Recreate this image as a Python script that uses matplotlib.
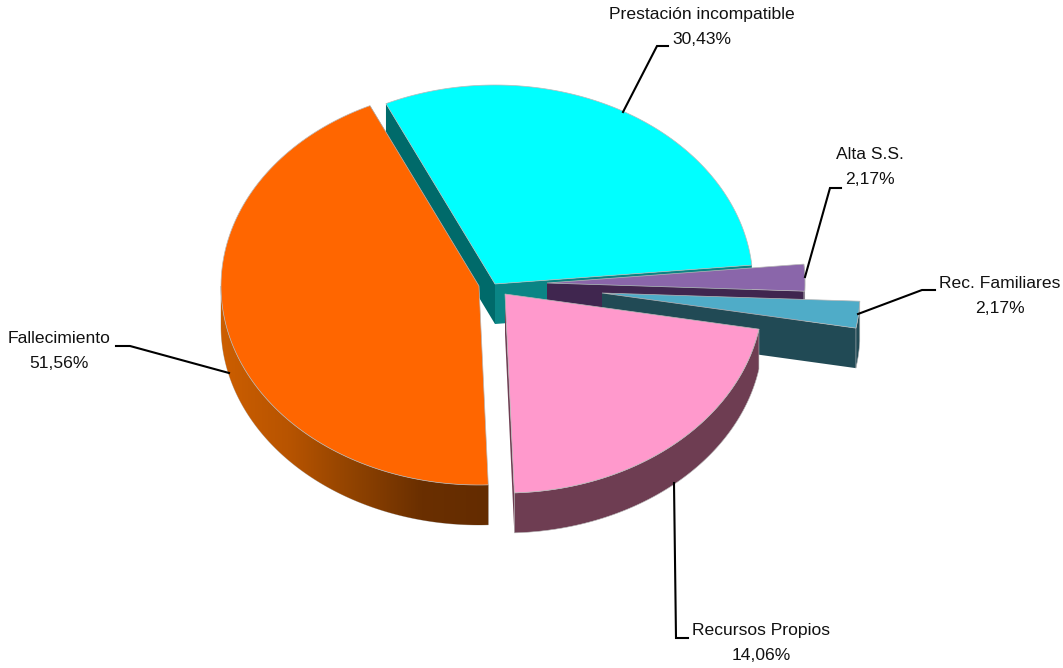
"""Exploded 3D-look pie chart, drawn by hand from wedge polygons."""
import numpy as np
import matplotlib.pyplot as plt
from matplotlib.colors import LinearSegmentedColormap
from matplotlib.patches import Polygon

# data
names = ["Prestación incompatible", "Alta S.S.", "Rec. Familiares",
         "Recursos Propios", "Fallecimiento"]
printed = ["30,43%", "2,17%", "2,17%", "14,06%", "51,56%"]
# slice sizes as drawn in the picture (they differ from the printed labels)
shares = [30.43, 2.17, 2.17, 21.60, 43.63]

# styling
top_colors = ["#00ffff", "#8a66aa", "#4facc8", "#ff99cc", "#ff6600"]
arc_walls = [None, "#40264f", "#214a55", "#6e3d52", None]
end_walls = ["#0a8585", "#40264f", "#214a55", "#6e3d52", "#6a2f00"]
orange_wall = LinearSegmentedColormap.from_list(
    "wall", ["#cc5e00", "#b85400", "#8f4200", "#6a2f00", "#642c00"])

START = 115.0
RX, RY, DEPTH = 258.0, 199.0, 40.0
CENTRES = [(495, 284), (547, 283), (602, 293), (505, 294), (479, 286)]
EDGE = "#b8b8b8"

# text centre, leader line
label_pos = [(702, 27), (870, 167), (1000, 296), (761, 643), (59, 351)]
leaders = [
    [(623, 112), (657, 46), (668, 46)],
    [(805, 277), (830, 188), (841, 188)],
    [(858, 314), (922, 290), (935, 290)],
    [(674, 483), (676, 638), (688, 638)],
    [(229, 373), (130, 346), (116, 346)],
]


def arc(centre, a, b, n=120):
    t = np.radians(np.linspace(a, b, n))
    return centre[0] + RX * np.cos(t), centre[1] - RY * np.sin(t)


def draw_slice(ax, centre, a, b, color, wall, end_wall, first):
    x, y = arc(centre, a, b)
    cx, cy = centre
    # radial walls
    if first:
        ax.fill([x[0], cx, cx, x[0]], [y[0], cy, cy + DEPTH, y[0] + DEPTH],
                color="#006a6a", lw=0, zorder=1)
    ax.fill([x[-1], cx, cx, x[-1]], [y[-1], cy, cy + DEPTH, y[-1] + DEPTH],
            color=end_wall, lw=0, zorder=1)
    # outer wall
    if wall is not None:
        ax.fill(np.r_[x, x[::-1]], np.r_[y, y[::-1] + DEPTH],
                facecolor=wall, edgecolor=EDGE, lw=0.4, zorder=1)
    # top
    ax.fill(np.r_[cx, x], np.r_[cy, y], facecolor=color, edgecolor=EDGE, lw=0.5, zorder=1)


def draw_shaded_wall(ax, centre, a, b, cmap):
    # horizontal gradient clipped to the outer wall of the slice
    xs, ys = arc(centre, a, b)
    pts = np.c_[np.r_[xs, xs[::-1]], np.r_[ys, ys[::-1] + DEPTH]]
    outline = Polygon(pts, closed=True, facecolor="none", edgecolor=EDGE, lw=0.5, zorder=1)
    ax.add_patch(outline)
    grad = np.linspace(0, 1, 256)[None, :]
    im = ax.imshow(grad, cmap=cmap, aspect="auto", zorder=1,
                   extent=(xs.min(), xs.max(), ys.max() + DEPTH, ys.min()))
    im.set_clip_path(outline)


def main():
    fig = plt.figure(figsize=(10.63, 6.68), dpi=100)
    ax = fig.add_axes([0, 0, 1, 1])

    ends = START - np.cumsum(np.array(shares) / sum(shares) * 360.0)
    starts = np.r_[START, ends[:-1]]
    for i in range(len(shares)):
        if names[i] == "Fallecimiento":
            # the visible wall only runs from the bottom round to the far left
            draw_shaded_wall(ax, CENTRES[i], -180, starts[i], orange_wall)
        draw_slice(ax, CENTRES[i], starts[i], ends[i], top_colors[i],
                   arc_walls[i], end_walls[i], i == 0)

    for pts in leaders:
        xs, ys = zip(*pts)
        ax.plot(xs, ys, color="black", lw=1.5, solid_joinstyle="miter", zorder=3)
    for name, val, pos in zip(names, printed, label_pos):
        ax.text(pos[0], pos[1], name + "\n" + val, ha="center", va="center",
                family="Liberation Sans", fontsize=12.6,
                color="#111111", linespacing=1.9, zorder=4)

    ax.set_xlim(0, 1063)
    ax.set_ylim(668, 0)
    ax.axis("off")
    fig.savefig("out.png", dpi=100)


if __name__ == "__main__":
    main()
